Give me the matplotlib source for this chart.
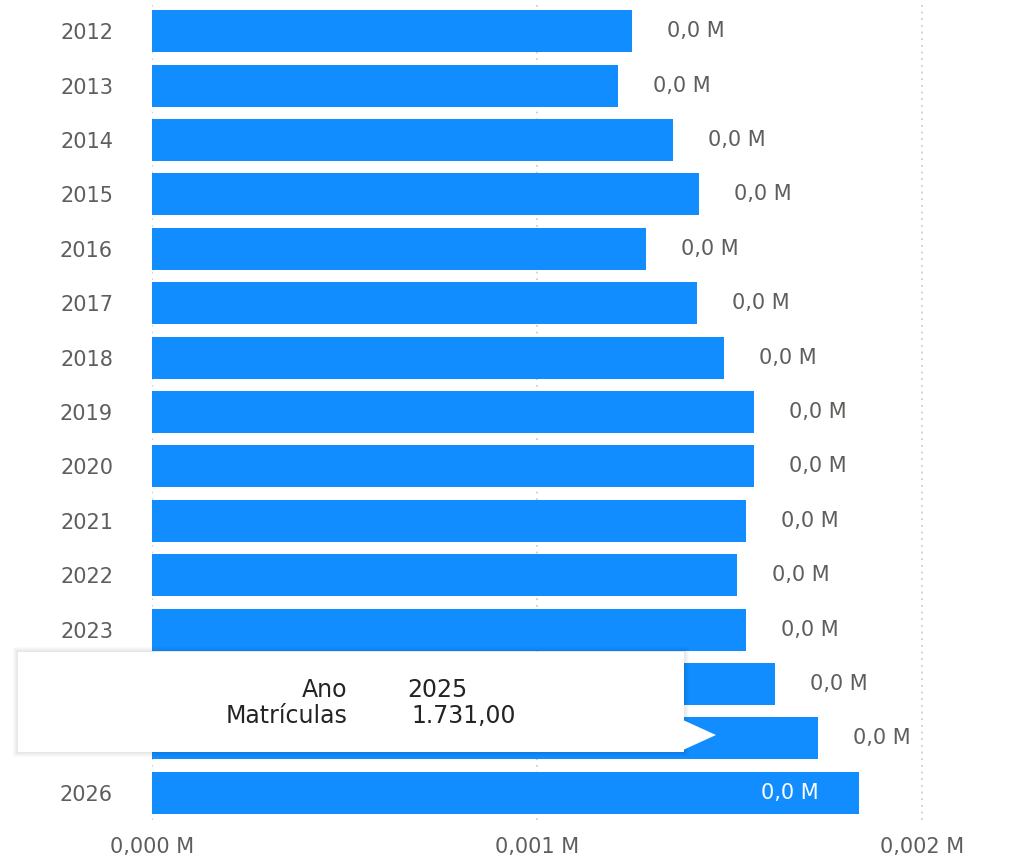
import matplotlib.pyplot as plt
from matplotlib.patches import Rectangle, Polygon

# dados: matrículas por ano
anos = ['2012', '2013', '2014', '2015', '2016', '2017', '2018', '2019',
        '2020', '2021', '2022', '2023', '2024', '2025', '2026']
matriculas = [1247, 1210, 1353, 1421, 1283, 1416, 1486, 1564,
              1564, 1543, 1519, 1543, 1618, 1731, 1836]
rotulos = ['0,0 M'] * len(anos)
xticks = [0.0, 0.001, 0.002]
xticklabels = ['0,000 M', '0,001 M', '0,002 M']

azul = '#118DFF'
cinza = '#605E5C'

W, H = 1010, 867
fig = plt.figure(figsize=(W / 100, H / 100), dpi=100)
ax = fig.add_axes([152 / W, 1 - 820 / H, (W - 152) / W, 816 / H])

valores = [m / 1e6 for m in matriculas]
pos = list(range(len(anos)))
ax.barh(pos, valores, height=0.77, color=azul, zorder=2)
ax.set_ylim(len(anos) - 0.5, -0.5)
ax.set_xlim(0, (W - 152) / 385 * 0.001)

ax.set_yticks(pos)
ax.set_yticklabels(anos, fontsize=15, color=cinza)
ax.set_xticks(xticks)
ax.set_xticklabels(xticklabels, fontsize=15, color=cinza)
ax.tick_params(axis='x', length=0, pad=12)
ax.tick_params(axis='y', length=0, pad=28)

ax.grid(axis='x', color='#C8C6C4', linestyle=(0, (1, 3)), linewidth=1.2, zorder=0)
for s in ax.spines.values():
    s.set_visible(False)

# rótulos de dados
for i, v in enumerate(valores):
    if i == len(valores) - 1:
        ax.annotate(rotulos[i], (v, i), xytext=(-40, 0), textcoords='offset pixels',
                    ha='right', va='center', fontsize=15, color='white', zorder=3)
    else:
        ax.annotate(rotulos[i], (v, i), xytext=(35, 0), textcoords='offset pixels',
                    ha='left', va='center', fontsize=15, color=cinza, zorder=3)

# tooltip
def px(x, y):
    return (x / W, 1 - y / H)

for k in range(1, 6):
    sombra = Rectangle(px(18 - k, 752 + k), (666 + 2 * k) / W, (100 + 2 * k) / H,
                       transform=fig.transFigure, facecolor='#000000', alpha=0.018,
                       edgecolor='none', zorder=5)
    fig.patches.append(sombra)
caixa = Rectangle(px(18, 752), 666 / W, 100 / H, transform=fig.transFigure,
                  facecolor='white', edgecolor='none', zorder=6)
fig.patches.append(caixa)
seta = Polygon([px(683, 720), px(716, 735), px(683, 750)], closed=True,
               transform=fig.transFigure, facecolor='white', edgecolor='none', zorder=6)
fig.patches.append(seta)

fig.text(*px(347, 690), 'Ano', ha='right', va='center', fontsize=17, color='#252423', zorder=7)
fig.text(*px(407, 690), '2025', ha='left', va='center', fontsize=17, color='#252423', zorder=7)
fig.text(*px(347, 716), 'Matrículas', ha='right', va='center', fontsize=17, color='#252423', zorder=7)
fig.text(*px(411, 716), '1.731,00', ha='left', va='center', fontsize=17, color='#252423', zorder=7)

fig.savefig('out.png', dpi=100)
